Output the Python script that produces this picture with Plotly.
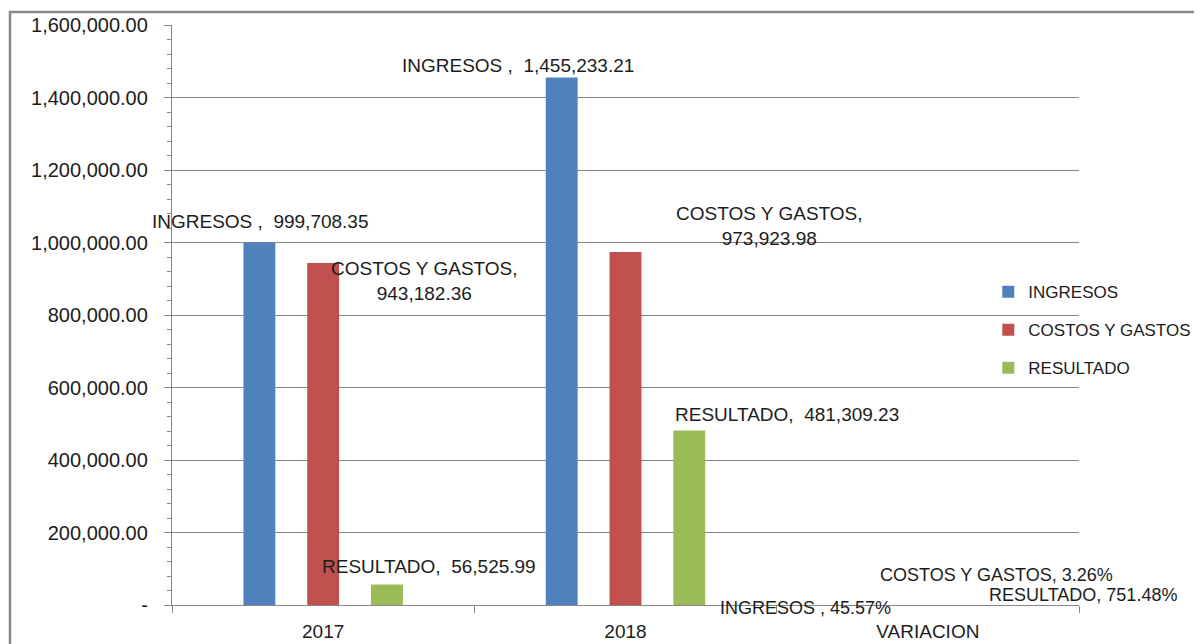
import plotly.graph_objects as go

categories = ["2017", "2018", "VARIACION"]
series_names = ["INGRESOS ", "COSTOS Y GASTOS", "RESULTADO"]
ingresos = [999708.35, 1455233.21, 0.4557]
costos = [943182.36, 973923.98, 0.0326]
resultado = [56525.99, 481309.23, 7.5148]
colors = ["#4F81BD", "#C0504D", "#9BBB59"]
y_tickvals = [0, 200000, 400000, 600000, 800000, 1000000, 1200000, 1400000, 1600000]
y_ticktext = ["-", "200,000.00", "400,000.00", "600,000.00", "800,000.00",
              "1,000,000.00", "1,200,000.00", "1,400,000.00", "1,600,000.00"]

FONT = "Liberation Sans"
TXT = "#1c1c1c"

fig = go.Figure()
all_series = [ingresos, costos, resultado]
for i, (name, vals) in enumerate(zip(series_names, all_series)):
    fig.add_trace(go.Bar(
        x=categories, y=vals, name=name.strip(), marker_color=colors[i],
        marker_line_width=0, legendgroup=str(i)))

# label placement (pixel x offsets from category centre, pixel y shifts) -- styling only
label_pos = {
    (0, 0): (-63, 21), (1, 0): (101, -18), (2, 0): (106, 18.5),
    (0, 1): (-108, 11.5), (1, 1): (144, 26), (2, 1): (161, 16.5),
    (0, 2): (-122, -3), (1, 2): (69, 30), (2, 2): (155, 10),
}

def fmt_val(v, ci):
    if categories[ci] == "VARIACION":
        return f"{v*100:.2f}%"
    return f"{v:,.2f}"

for si, (name, vals) in enumerate(zip(series_names, all_series)):
    for ci, v in enumerate(vals):
        if categories[ci] == "VARIACION":
            text = f"{name}, {fmt_val(v, ci)}"
            size = 18
        elif si == 1:
            text = f"{name},<br>{fmt_val(v, ci)}"
            size = 19
        else:
            text = f"{name},  {fmt_val(v, ci)}"
            size = 19
        dx, dy = label_pos[(si, ci)]
        fig.add_annotation(
            x=ci, y=v, xref="x", yref="y", text=text, showarrow=False,
            xanchor="center", yanchor="middle", xshift=dx, yshift=dy,
            font=dict(family=FONT, size=size, color=TXT))

# outer chart border
fig.add_shape(type="rect", xref="paper", yref="paper",
              x0=(10 - 172) / 907, x1=(1260 - 172) / 907,
              y0=(605 - 700) / 580, y1=(605 - 12) / 580,
              line=dict(color="#878787", width=2.5), layer="below")

fig.update_layout(
    width=1202, height=644,
    margin=dict(l=164, r=131, t=17, b=47, autoexpand=False),
    paper_bgcolor="white", plot_bgcolor="white",
    barmode="group", bargap=0.367, bargroupgap=0.5,
    font=dict(family=FONT, size=18, color=TXT),
    showlegend=True,
    legend=dict(x=0.9, xanchor="left", y=0.474, yanchor="middle",
                font=dict(family=FONT, size=17, color=TXT),
                tracegroupgap=13, bgcolor="rgba(0,0,0,0)"),
    xaxis=dict(showline=True, linecolor="#868686", linewidth=1.3,
               ticks="outside", tickson="boundaries", ticklen=7, tickcolor="#868686",
               showgrid=False, tickfont=dict(family=FONT, size=19, color=TXT),
               range=[-0.5, 2.5], automargin=False, ticklabelstandoff=9),
    yaxis=dict(range=[0, 1600000], tickvals=y_tickvals, ticktext=y_ticktext,
               showline=True, linecolor="#868686", linewidth=1.3,
               ticks="outside", ticklen=7, tickcolor="#868686",
               showgrid=True, gridcolor="#868686", gridwidth=1,
               zeroline=False, automargin=False,
               minor=dict(dtick=40000, ticks="outside", ticklen=4, tickcolor="#868686", showgrid=False),
               tickfont=dict(family=FONT, size=20, color=TXT), ticklabelstandoff=12),
)

fig.write_html("out.html")
